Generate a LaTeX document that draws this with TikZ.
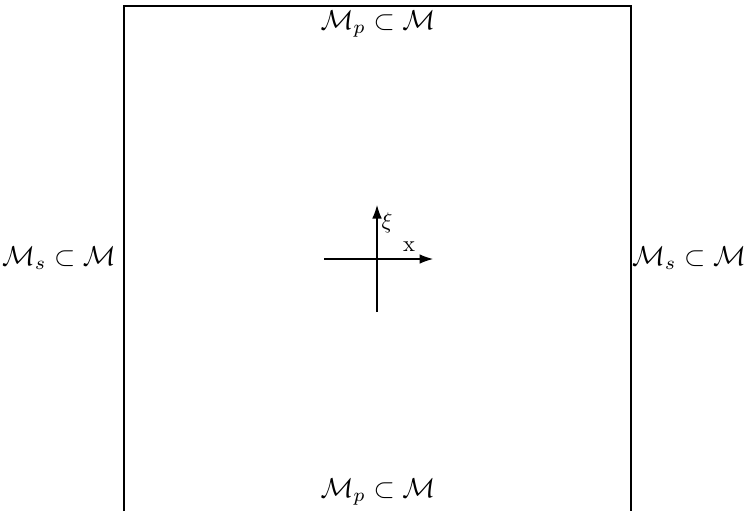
\documentclass[tikz,border=0pt]{standalone}
\usetikzlibrary{arrows.meta}
\begin{document}
\begin{tikzpicture}[x=0.3333pt,y=-0.3333pt,
  lbl/.style={inner sep=0pt,anchor=center,scale=0.91},
  small/.style={inner sep=0pt,anchor=center,scale=0.75},
  axis/.style={line width=0.35pt,-{Latex[length=4.5pt,width=3.2pt]}}]
\useasboundingbox (0,0) rectangle (747,511);
\coordinate (bl) at (124,511);
\coordinate (tl) at (124,6);
\coordinate (tr) at (631,6);
\coordinate (br) at (631,511);
\draw[line width=0.35pt] (bl) -- (tl) -- (tr) -- (br);
\node[lbl] (top) at (378,24) {$\mathcal{M}_p\subset\mathcal{M}$};
\node[lbl] (bot) at (378,492) {$\mathcal{M}_p\subset\mathcal{M}$};
\node[lbl] (left) at (59,258) {$\mathcal{M}_s\subset\mathcal{M}$};
\node[lbl] (right) at (689,258) {$\mathcal{M}_s\subset\mathcal{M}$};
\coordinate (o) at (377,259);
\coordinate (xl) at (324,259);
\coordinate (xr) at (433,259);
\coordinate (yb) at (377,312);
\coordinate (yt) at (377,205);
\draw[axis] (xl) -- (xr);
\draw[axis] (yb) -- (yt);
\fill (o) circle (0.5pt);
\node[small] (xi) at (387,223) {$\xi$};
\node[small] (xlab) at (409,247) {x};
\end{tikzpicture}
\end{document}
